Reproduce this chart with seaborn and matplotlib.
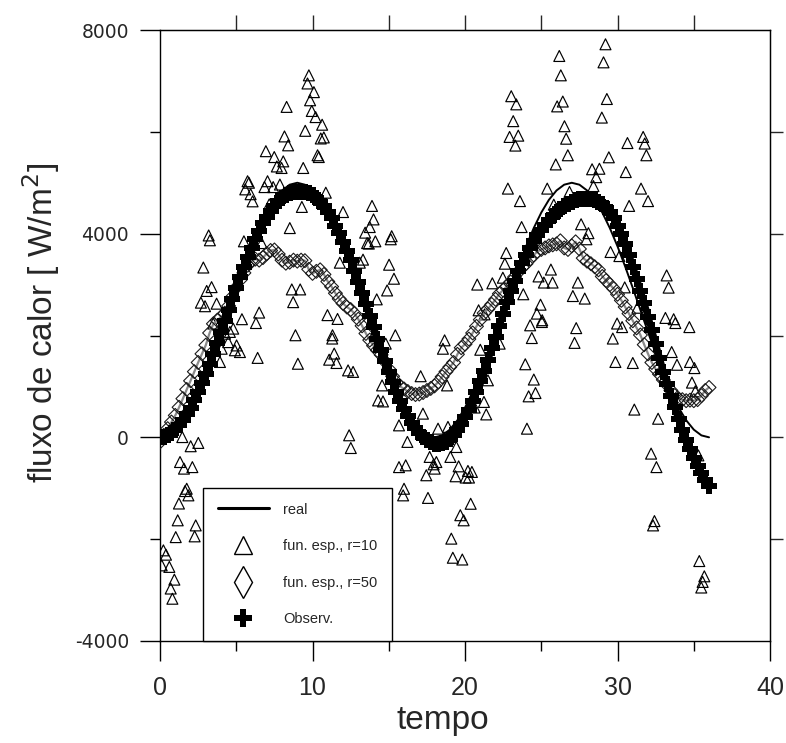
import numpy as np
import pandas as pd
import matplotlib
matplotlib.use("Agg")
import matplotlib.pyplot as plt
from matplotlib.lines import Line2D
import seaborn as sns

# ---------------- data ----------------
# "real" curve, sampled every 0.5 time units from 0 to 36
real_t = np.arange(0, 36.01, 0.5)
real_v = [0, 38, 151, 335, 585, 893, 1250, 1645, 2066, 2500, 2934, 3355, 3750, 4107, 4415,
          4665, 4849, 4962, 5000, 4962, 4849, 4665, 4415, 4107, 3750, 3355, 2934, 2500, 2066,
          1645, 1250, 893, 585, 335, 151, 38, 0,
          38, 151, 335, 585, 893, 1250, 1645, 2066, 2500, 2934, 3355, 3750, 4107, 4415,
          4665, 4849, 4962, 5000, 4962, 4849, 4665, 4415, 4107, 3750, 3355, 2934, 2500, 2066,
          1645, 1250, 893, 585, 335, 151, 38, 0]

# Observ. (crosses) and fun. esp. r=50 (diamonds), every 0.25 time units
obs_t = np.arange(0, 36.001, 0.25)
obs_v = [0, 10, 38, 85, 150, 235, 335, 452, 585, 733, 893, 1066, 1250, 1443, 1645, 1853,
         2066, 2283, 2500, 2717, 2930, 3140, 3345, 3540, 3725, 3900, 4060, 4205,
         4335, 4450, 4550, 4635, 4705, 4755, 4790, 4812, 4822, 4822, 4812, 4790,
         4755, 4700, 4630, 4540, 4430, 4300, 4160, 4005, 3840, 3665, 3480, 3270,
         3050, 2830, 2610, 2385, 2160, 1935, 1710, 1490, 1280, 1080, 890, 715,
         555, 415, 290, 180, 85, 10, -50, -95, -125, -135, -120, -85,
         -30, 45, 140, 255, 390, 545, 715, 900, 1100, 1310, 1525, 1745,
         1965, 2185, 2430, 2660, 2880, 3080, 3260, 3430, 3580, 3720, 3850, 3965,
         4075, 4175, 4265, 4350, 4425, 4490, 4545, 4590, 4625, 4655, 4675, 4686,
         4690, 4682, 4662, 4628, 4578, 4510, 4425, 4300, 4150, 3990, 3800, 3580,
         3350, 3110, 2870, 2630, 2370, 2100, 1830, 1560, 1290, 1050, 815, 590,
         360, 150, -50, -230, -400, -560, -705, -840, -960]
r50_v = [-90, 40, 170, 300, 430, 590, 760, 940, 1110, 1290, 1470, 1640,
         1810, 2050, 2230, 2300, 2360, 2440, 2580, 2760, 2940, 3090, 3230, 3380,
         3470, 3500, 3480, 3530, 3610, 3670, 3680, 3600, 3480, 3420, 3440, 3480,
         3460, 3480, 3470, 3300, 3220, 3260, 3290, 3200, 3060, 2960, 2830, 2720,
         2630, 2560, 2510, 2430, 2320, 2190, 2040, 1910, 1800, 1710, 1620, 1490,
         1340, 1200, 1080, 1000, 950, 900, 860, 840, 850, 880, 920, 960,
         1010, 1090, 1190, 1290, 1380, 1470, 1630, 1760, 1830, 1930, 2050, 2180,
         2310, 2440, 2520, 2610, 2710, 2820, 2890, 2970, 3050, 3150, 3250, 3340,
         3410, 3500, 3580, 3650, 3690, 3720, 3760, 3780, 3800, 3860, 3720, 3690,
         3760, 3840, 3700, 3520, 3460, 3410, 3350, 3290, 3160, 3080, 3000, 2920,
         2810, 2690, 2560, 2430, 2290, 2150, 2010, 1820, 1640, 1470, 1340, 1240,
         1130, 1030, 920, 820, 760, 740, 720, 730, 720, 740, 820, 920, 980]

# fun. esp., r=10 (triangles)
tri_t = [9.76, 9.67, 10.09, 9.84, 8.30, 9.95, 10.20, 10.63, 9.52, 8.16, 10.54, 10.74, 8.40,
         6.94, 7.49, 10.33, 10.41, 8.08, 7.66, 7.97, 9.39, 5.74, 5.83, 7.05, 6.85, 7.42,
         7.86, 5.59, 5.94, 6.07, 10.87, 7.16, 9.30, 12.00, 13.90, 14.00, 13.75, 13.45,
         13.58, 13.69, 14.12, 15.19, 15.13, 8.51, 5.50, 3.19, 3.27, 6.66, 11.79, 13.10,
         13.31, 15.02, 15.34, 2.84, 3.38, 3.06, 8.64, 9.19, 8.73, 14.89, 14.21, 2.68, 2.95,
         3.71, 6.50, 5.37, 6.29, 10.98, 11.64, 3.49, 4.80, 8.88, 11.31, 15.43, 18.66,
         4.58, 4.26, 4.47, 4.04, 5.02, 5.24, 4.91, 3.93, 6.40, 9.04, 11.29, 11.42, 11.09,
         11.57, 12.33, 12.66, 14.80, 18.55, 14.56, 14.30, 14.62, 17.09, 17.24, 15.67,
         16.22, 18.23, 18.82, 19.43, 12.40, 12.51, 1.46, 2.01, 2.51, 1.31, 1.57, 2.12,
         1.75, 1.86, 1.64, 1.24, 1.16, 1.03, 2.34, 2.27, 15.67, 16.11, 17.68, 17.94,
         18.12, 18.01, 17.46, 19.04, 19.38, 16.00, 15.94, 17.57, 19.10, 19.20, 0.22, 0.39,
         0.11, 0.61, 0.94, 0.70, 0.81,
         24.27, 25.04, 27.29, 27.18, 24.38, 23.95, 24.51, 24.62, 24.17, 24.06, 21.00,
         21.50, 21.24, 21.39, 20.63, 19.58, 20.19, 20.04, 20.45, 20.26, 20.37, 19.69,
         19.91, 19.82, 29.86, 31.00, 29.69, 29.97, 30.30, 31.10, 32.66, 32.20, 32.55,
         32.42, 32.33, 33.55, 33.90, 34.75, 35.04, 34.88, 35.10, 34.71, 35.30, 35.36,
         35.69, 35.58, 35.49, 22.27, 18.88,
         29.21, 26.18, 29.08, 26.28, 23.03, 23.36, 26.04, 26.41, 29.30, 28.97, 23.16,
         22.92, 23.49, 23.30, 26.52, 26.63, 26.74, 25.95, 29.43, 30.65, 31.68, 31.78,
         31.89, 28.33, 28.81, 28.60, 28.42, 30.54, 22.81, 23.60, 25.39, 26.85, 25.82,
         31.54, 32.00, 30.76, 23.71, 27.61, 28.09, 27.96, 22.70, 22.61, 22.48, 20.80,
         21.79, 29.54, 30.12, 25.63, 24.82, 25.17, 25.74, 27.40, 23.82, 27.07, 27.85,
         20.89, 21.28, 24.95, 24.71, 25.06, 30.47, 31.30, 33.22, 33.35, 33.14, 33.68,
         33.79]
tri_v = [7110, 6950, 6780, 6620, 6490, 6410, 6290, 6140, 6020, 5910, 5870, 5890, 5735,
         5620, 5505, 5540, 5505, 5420, 5320, 5290, 5290, 5030, 5000, 5030, 4915, 4915,
         4965, 4870, 4775, 4635, 4805, 4575, 4525, 4425, 4545, 4280, 4130, 4020,
         3815, 3805, 3850, 3950, 3890, 4110, 3850, 3965, 3870, 3815, 3430, 3430,
         3490, 3390, 3115, 3335, 2950, 2875, 2905, 2905, 2655, 2885, 2710, 2645, 2575,
         2625, 2450, 2320, 2245, 2400, 2325, 2235, 2135, 2005, 2005, 2005, 1905,
         2070, 2035, 1870, 1740, 1805, 1675, 1710, 1480, 1560, 1445, 1940, 1645, 1525,
         1460, 1315, 1285, 1840, 1740, 1020, 725, 705, 1200, 465, 235,
         -90, 170, 1020, -190, 40, -210, 5, -175, -110, -485, -615, -585,
         -1010, -1140, -1055, -1300, -1630, -1960, -1730, -1945, -585, -550, -385, -530,
         -485, -615, -745, -385, -765, -1010, -1140, -1190, -1990, -2365, -2220, -2305,
         -2515, -2545, -2795, -2970, -3170,
         2200, 2265, 2145, 1855, 1950, 1435, 1135, 870, 805, 170, 1720,
         1120, 695, 450, 585, -570, -660, -790, -680, -790, -1305, -1530,
         -1630, -2400, 1480, 1460, 1940, 2235, 2165, 545, 365, -320, -585,
         -1645, -1730, 1675, 1425, 1480, 1360, 1075, 905, 2165, -355, -2430,
         -2730, -2840, -2950, 1840, 205,
         7720, 7490, 7365, 7110, 6700, 6540, 6500, 6595, 6645, 6280, 6210,
         5900, 5925, 5730, 6110, 5865, 5540, 5360, 5500, 5780, 5900, 5770,
         5540, 5265, 5275, 5110, 4935, 5210, 4885, 4640, 4885, 4820, 4570,
         4885, 4640, 4545, 4130, 4185, 4010, 3890, 3620, 3410, 3135, 3000,
         3025, 3640, 3560, 3295, 3160, 3040, 3040, 3040, 2810, 2775, 2725,
         2495, 2415, 2605, 2430, 2300, 2945, 2545, 3180, 2940, 2345, 2320,
         2245]

legend_labels = ["real", "fun. esp., r=10", "fun. esp., r=50", "Observ."]

# ---------------- style ----------------
sns.set_style("ticks")
plt.rcParams["font.family"] = ["Liberation Sans", "DejaVu Sans"]

df_real = pd.DataFrame({"t": real_t, "v": real_v})
df_obs = pd.DataFrame({"t": obs_t, "v": obs_v})
df_r50 = pd.DataFrame({"t": obs_t, "v": r50_v})
df_tri = pd.DataFrame({"t": tri_t, "v": tri_v})

fig = plt.figure(figsize=(7.86, 7.43), dpi=100)
ax = fig.add_axes([0.2036, 0.1373, 0.7761, 0.8223])

sns.scatterplot(data=df_tri, x="t", y="v", ax=ax, marker="^", s=62,
                facecolors="none", edgecolor="black", linewidth=0.85, zorder=2)
sns.lineplot(data=df_r50, x="t", y="v", ax=ax, color="#8a8a8a", linewidth=1.6,
             sort=False, estimator=None, zorder=3)
sns.scatterplot(data=df_r50, x="t", y="v", ax=ax, marker="D", s=50,
                facecolors="none", edgecolor="#1a1a1a", linewidth=0.8, zorder=3)
sns.lineplot(data=df_real, x="t", y="v", ax=ax, color="black", linewidth=1.4,
             sort=False, estimator=None, zorder=4)
sns.lineplot(data=df_obs, x="t", y="v", ax=ax, color="black", linewidth=5,
             sort=False, estimator=None, zorder=5)
sns.scatterplot(data=df_obs, x="t", y="v", ax=ax, marker="P", s=135,
                color="black", edgecolor="black", linewidth=0, zorder=5)

ax.set_xlim(0, 40)
ax.set_ylim(-4000, 8000)
ax.set_xticks([0, 10, 20, 30, 40])
ax.set_xticks([5, 15, 25, 35], minor=True)
ax.set_yticks([-4000, 0, 4000, 8000])
ax.set_yticks([-2000, 2000, 6000], minor=True)
ax.set_yticklabels(["-4000", "0", "4000", "8000"], family="DejaVu Sans", fontsize=13.5)
ax.set_xticklabels(["0", "10", "20", "30", "40"], family="Liberation Sans", fontsize=18)
ax.tick_params(axis="both", which="major", direction="out", length=14.4, width=1,
               color="black")
ax.tick_params(axis="both", which="minor", direction="out", length=7.2, width=1,
               color="black")
ax.tick_params(axis="x", which="major", pad=11)
ax.tick_params(axis="y", which="major", pad=8)
for sp in ax.spines.values():
    sp.set_visible(True)
    sp.set_color("black")
    sp.set_linewidth(1)

sec_x = ax.secondary_xaxis("top")
sec_x.set_xticks([5, 10, 15, 20, 25, 30, 35])
sec_x.tick_params(direction="out", length=11, width=1, labeltop=False)
sec_y = ax.secondary_yaxis("right")
sec_y.set_yticks([-2000, 0, 2000, 4000, 6000])
sec_y.tick_params(direction="out", length=9.5, width=1, labelright=False)

ax.set_xlabel("tempo", fontsize=24, family="Liberation Sans")
ax.xaxis.set_label_coords(0.463, -0.105)
ax.set_ylabel("fluxo de calor [ W/m$^2$]", fontsize=24, family="Liberation Sans")
ax.yaxis.set_label_coords(-0.16, 0.52)

handles = [
    Line2D([0], [0], color="black", lw=2.2),
    Line2D([0], [0], marker="^", ls="none", mfc="white", mec="black", ms=13, mew=1),
    Line2D([0], [0], marker="d", ls="none", mfc="white", mec="black", ms=16, mew=1),
    Line2D([0], [0], marker="P", ls="none", mfc="black", mec="black", ms=13, mew=0),
]
leg = ax.legend(handles, legend_labels, loc="lower left", bbox_to_anchor=(0.0709, 0.0),
                borderaxespad=0, frameon=True, fancybox=False, framealpha=1,
                edgecolor="black", prop={"family": "Liberation Sans", "size": 10.5},
                handlelength=3.5, handletextpad=1.0, borderpad=1.0, labelspacing=1.55,
                numpoints=1)
leg.get_frame().set_linewidth(1)
leg.set_zorder(10)

fig.savefig("out.png", dpi=100)
